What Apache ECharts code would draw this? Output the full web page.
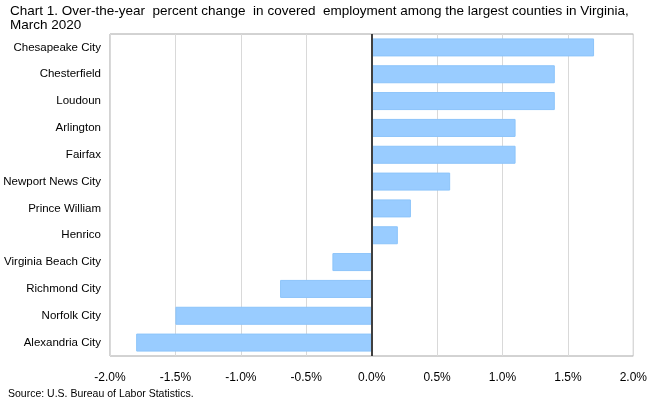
<!DOCTYPE html>
<html>
<head>
<meta charset="utf-8">
<script src="https://cdn.jsdelivr.net/npm/echarts@6/dist/echarts.min.js"></script>
<style>
  html, body { margin: 0; padding: 0; background: #fff; }
  #chart { width: 650px; height: 398px; }
</style>
</head>
<body>
<div id="chart"></div>
<script>
// counties, top to bottom as shown
var counties = ['Chesapeake City', 'Chesterfield', 'Loudoun', 'Arlington', 'Fairfax',
  'Newport News City', 'Prince William', 'Henrico', 'Virginia Beach City',
  'Richmond City', 'Norfolk City', 'Alexandria City'];
// percent change, March 2019 to March 2020
var pctChange = [1.7, 1.4, 1.4, 1.1, 1.1, 0.6, 0.3, 0.2, -0.3, -0.7, -1.5, -1.8];

var font = 'Arial, "Liberation Sans", sans-serif';

var chart = echarts.init(document.getElementById('chart'));
chart.setOption({
  animation: false,
  title: {
    text: 'Chart 1. Over-the-year  percent change  in covered  employment among the largest counties in Virginia,\nMarch 2020',
    left: 5,
    top: -1,
    textStyle: { fontFamily: font, fontSize: 13.5, fontWeight: 'normal', color: '#000', lineHeight: 14 }
  },
  graphic: [{
    type: 'text',
    left: 8,
    top: 389,
    style: { text: 'Source: U.S. Bureau of Labor Statistics.', fontFamily: font, fontSize: 10.5, fill: '#000' }
  }],
  grid: {
    left: 110, right: 14, top: 34, bottom: 42,
    show: true, borderColor: '#a6a6a6', borderWidth: 1
  },
  xAxis: {
    type: 'value',
    min: -2, max: 2, interval: 0.5,
    axisLine: { show: false },
    axisTick: { show: false },
    splitLine: { lineStyle: { color: '#d9d9d9', width: 1 } },
    axisLabel: {
      margin: 16,
      fontFamily: font, fontSize: 12, color: '#000',
      formatter: function (v) { return v.toFixed(1) + '%'; }
    }
  },
  yAxis: {
    type: 'category',
    data: counties,
    inverse: true,
    axisLine: { show: false },
    axisTick: { show: false },
    splitLine: { show: false },
    axisLabel: { margin: 9, fontFamily: font, fontSize: 11.5, color: '#000' }
  },
  series: [{
    type: 'bar',
    data: pctChange,
    barWidth: 18,
    itemStyle: { color: '#99ccff', borderColor: '#8cc4fa', borderWidth: 1 },
    markLine: {
      silent: true,
      symbol: 'none',
      label: { show: false },
      lineStyle: { color: '#404040', width: 2, type: 'solid' },
      data: [{ xAxis: 0 }]
    }
  }]
});
</script>
</body>
</html>
